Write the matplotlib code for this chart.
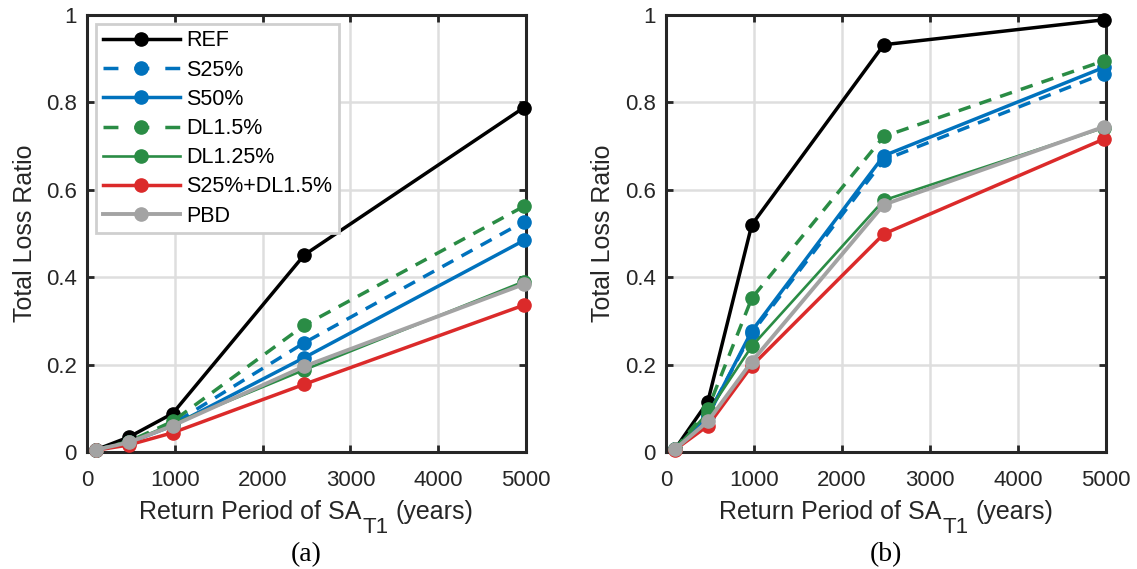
import matplotlib.pyplot as plt
from matplotlib.lines import Line2D
from matplotlib.transforms import IdentityTransform
import numpy as np

# Return periods (years)
return_periods = [100, 475, 975, 2475, 4975]

series_names = ["REF", "S25%", "S50%", "DL1.5%", "DL1.25%", "S25%+DL1.5%", "PBD"]

# Panel (a)
loss_a = {
    "REF": [0.005, 0.034, 0.088, 0.451, 0.788],
    "S25%": [0.005, 0.022, 0.064, 0.250, 0.527],
    "S50%": [0.005, 0.021, 0.060, 0.216, 0.484],
    "DL1.5%": [0.005, 0.024, 0.070, 0.290, 0.562],
    "DL1.25%": [0.005, 0.022, 0.064, 0.188, 0.390],
    "S25%+DL1.5%": [0.004, 0.016, 0.044, 0.155, 0.336],
    "PBD": [0.005, 0.022, 0.060, 0.196, 0.384],
}

# Panel (b)
loss_b = {
    "REF": [0.006, 0.115, 0.520, 0.932, 0.989],
    "S25%": [0.006, 0.085, 0.272, 0.668, 0.866],
    "S50%": [0.006, 0.082, 0.277, 0.678, 0.880],
    "DL1.5%": [0.006, 0.098, 0.352, 0.722, 0.895],
    "DL1.25%": [0.006, 0.090, 0.242, 0.576, 0.742],
    "S25%+DL1.5%": [0.005, 0.060, 0.197, 0.499, 0.716],
    "PBD": [0.006, 0.070, 0.207, 0.566, 0.744],
}

styles = {
    "REF": dict(color="black", ls="-", lw=2.5),
    "S25%": dict(color="#0072BD", ls=(0, (3.6, 2.7)), lw=2.5),
    "S50%": dict(color="#0072BD", ls="-", lw=2.5),
    "DL1.5%": dict(color="#2A8C45", ls=(0, (3.6, 2.7)), lw=2.5),
    "DL1.25%": dict(color="#2A8C45", ls="-", lw=1.9),
    "S25%+DL1.5%": dict(color="#DB2A2A", ls="-", lw=2.5),
    "PBD": dict(color="#A3A3A3", ls="-", lw=2.8),
}

plt.rcParams["font.family"] = ["Liberation Sans", "DejaVu Sans"]
TXT = "#262626"

fig = plt.figure(figsize=(11.37, 5.69), dpi=100)
ax_a = fig.add_axes([87 / 1137, 117 / 569, 439 / 1137, 437 / 569])
ax_b = fig.add_axes([666 / 1137, 117 / 569, 440 / 1137, 437 / 569])
renderer = fig.canvas.get_renderer()


def xlabel_with_sub(ax, base_px, drop_px=14):
    # MATLAB-style label: near full-size subscript dropped below the baseline
    pieces = [("Return Period of SA", 18, 0, 1), ("T1", 16, -drop_px, 7), ("(years)", 18, 0, 0)]
    texts = []
    widths = []
    for s, fs, dy, gap in pieces:
        t = fig.text(0, 0, s, fontsize=fs, color=TXT, va="baseline", ha="left",
                     transform=IdentityTransform())
        texts.append(t)
        widths.append(t.get_window_extent(renderer).width)
    total = sum(widths) + sum(p[3] for p in pieces)
    box = ax.get_window_extent(renderer)
    x = (box.x0 + box.x1) / 2 - total / 2
    y = fig.bbox.height - base_px
    for t, w, (s, fs, dy, gap) in zip(texts, widths, pieces):
        t.set_position((x, y + dy))
        x += w + gap


def draw_panel(ax, data, tag, legend=False):
    for name in series_names:
        st = styles[name]
        ax.plot(return_periods, data[name], color=st["color"], linestyle=st["ls"],
                linewidth=st["lw"], marker="o", markersize=9.5, label=name,
                clip_on=False, zorder=3)
    ax.set_xlim(0, 5000)
    ax.set_ylim(0, 1)
    ax.set_xticks([0, 1000, 2000, 3000, 4000, 5000])
    ax.set_yticks([0, 0.2, 0.4, 0.6, 0.8, 1])
    ax.set_yticklabels(["0", "0.2", "0.4", "0.6", "0.8", "1"])
    ax.grid(True, color="#DEDEDE", linewidth=1.8)
    ax.set_axisbelow(True)
    ax.tick_params(direction="in", length=5, width=2, labelsize=16,
                   top=True, right=True, colors=TXT)
    ax.tick_params(axis="x", pad=13)
    ax.tick_params(axis="y", pad=7.5)
    for sp in ax.spines.values():
        sp.set_linewidth(2.2)
        sp.set_color(TXT)
    ax.set_ylabel("Total Loss Ratio", fontsize=18, color=TXT)
    ax.yaxis.set_label_coords(-0.115, 0.5)
    xlabel_with_sub(ax, 519)
    box = ax.get_position()
    fig.text((box.x0 + box.x1) / 2, (569 - 555) / 569, tag, ha="center", va="center",
             fontsize=20, family="Liberation Serif")
    if legend:
        # legend proxies: dashed ones get a "- o -" pattern like MATLAB
        handles = []
        for name in series_names:
            st = styles[name]
            ls = (0, (4.3, 4.6)) if st["ls"] != "-" else "-"
            handles.append(Line2D([], [], color=st["color"], linestyle=ls,
                                  linewidth=st["lw"], marker="o", markersize=9.5))
        leg = ax.legend(handles, series_names, loc="upper left", fontsize=15.5,
                        handlelength=3.6, fancybox=False, framealpha=1,
                        borderaxespad=0.42, labelspacing=0.38, borderpad=0.3,
                        handletextpad=0.3)
        leg.get_frame().set_edgecolor("#CFCFCF")
        leg.get_frame().set_linewidth(2.0)


draw_panel(ax_a, loss_a, "(a)", legend=True)
draw_panel(ax_b, loss_b, "(b)")

fig.savefig("out.png", dpi=100)
